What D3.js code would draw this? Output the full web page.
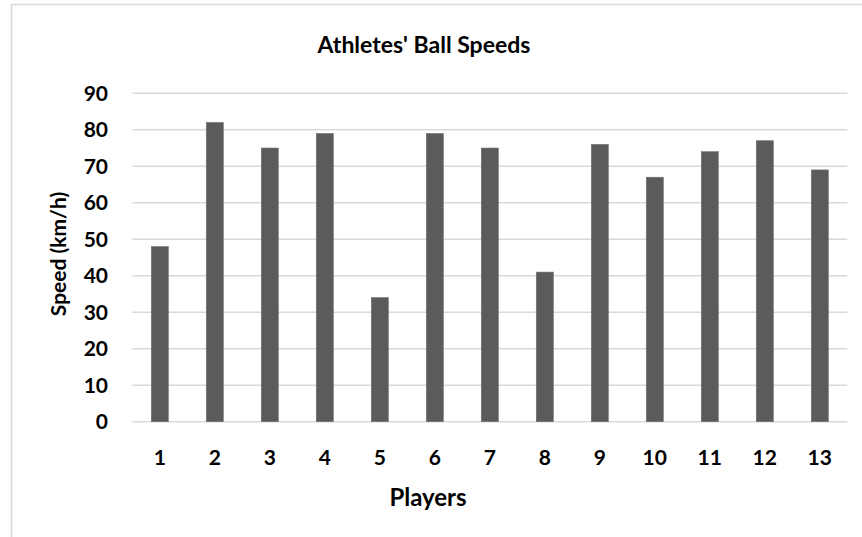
<!DOCTYPE html>
<html>
<head>
<meta charset="utf-8">
<script src="https://cdn.jsdelivr.net/npm/d3@7"></script>
<style>
  body { margin: 0; background: #fff; }
  text { font-family: Lato, "Open Sans", sans-serif; font-weight: bold; fill: #000; }
</style>
</head>
<body>
<script>
const width = 862, height = 537;

// data
const players = ["1", "2", "3", "4", "5", "6", "7", "8", "9", "10", "11", "12", "13"];
const speeds = [48, 82, 75, 79, 34, 79, 75, 41, 76, 67, 74, 77, 69];
const yTicks = [0, 10, 20, 30, 40, 50, 60, 70, 80, 90];

const margin = { top: 93.3, right: 14.7, bottom: 115.3, left: 132.3 };

const svg = d3.select("body").append("svg")
    .attr("width", width)
    .attr("height", height);

svg.append("rect")
    .attr("width", width).attr("height", height)
    .attr("fill", "#fff");

// chart area border (only top and left visible)
svg.append("path")
    .attr("d", `M11.5,${height} V4.5 H${width}`)
    .attr("fill", "none")
    .attr("stroke", "#d9d9d9")
    .attr("stroke-width", 1.5);

const x = d3.scaleBand()
    .domain(players)
    .range([margin.left, width - margin.right])
    .paddingInner(0.69)
    .paddingOuter(0.345);

const y = d3.scaleLinear()
    .domain([0, 90])
    .range([height - margin.bottom, margin.top]);

// gridlines
svg.append("g")
    .selectAll("line")
    .data(yTicks)
    .enter().append("line")
    .attr("x1", margin.left)
    .attr("x2", width - margin.right)
    .attr("y1", d => y(d))
    .attr("y2", d => y(d))
    .attr("stroke", "#d9d9d9")
    .attr("stroke-width", 1.5);

// bars
svg.append("g")
    .selectAll("rect")
    .data(speeds)
    .enter().append("rect")
    .attr("x", (d, i) => x(players[i]))
    .attr("y", d => y(d))
    .attr("width", x.bandwidth())
    .attr("height", d => y(0) - y(d))
    .attr("fill", "#5b5b5b")
    .attr("stroke", "#707070")
    .attr("stroke-width", 0.6);

// y tick labels
svg.append("g")
    .selectAll("text")
    .data(yTicks)
    .enter().append("text")
    .attr("x", 108)
    .attr("y", d => y(d))
    .attr("dy", "0.36em")
    .attr("text-anchor", "end")
    .style("font-size", "21px")
    .text(d => d);

// x tick labels
svg.append("g")
    .selectAll("text")
    .data(players)
    .enter().append("text")
    .attr("x", d => x(d) + x.bandwidth() / 2)
    .attr("y", 457.5)
    .attr("dy", "0.36em")
    .attr("text-anchor", "middle")
    .style("font-size", "21px")
    .text(d => d);

// titles
svg.append("text")
    .attr("x", 424)
    .attr("y", 45)
    .attr("dy", "0.36em")
    .attr("text-anchor", "middle")
    .style("font-size", "23px")
    .text("Athletes' Ball Speeds");

svg.append("text")
    .attr("x", 428)
    .attr("y", 497)
    .attr("dy", "0.36em")
    .attr("text-anchor", "middle")
    .style("font-size", "24px")
    .text("Players");

svg.append("text")
    .attr("transform", "translate(58,254) rotate(-90)")
    .attr("dy", "0.36em")
    .attr("text-anchor", "middle")
    .style("font-size", "21px")
    .text("Speed (km/h)");
</script>
</body>
</html>
